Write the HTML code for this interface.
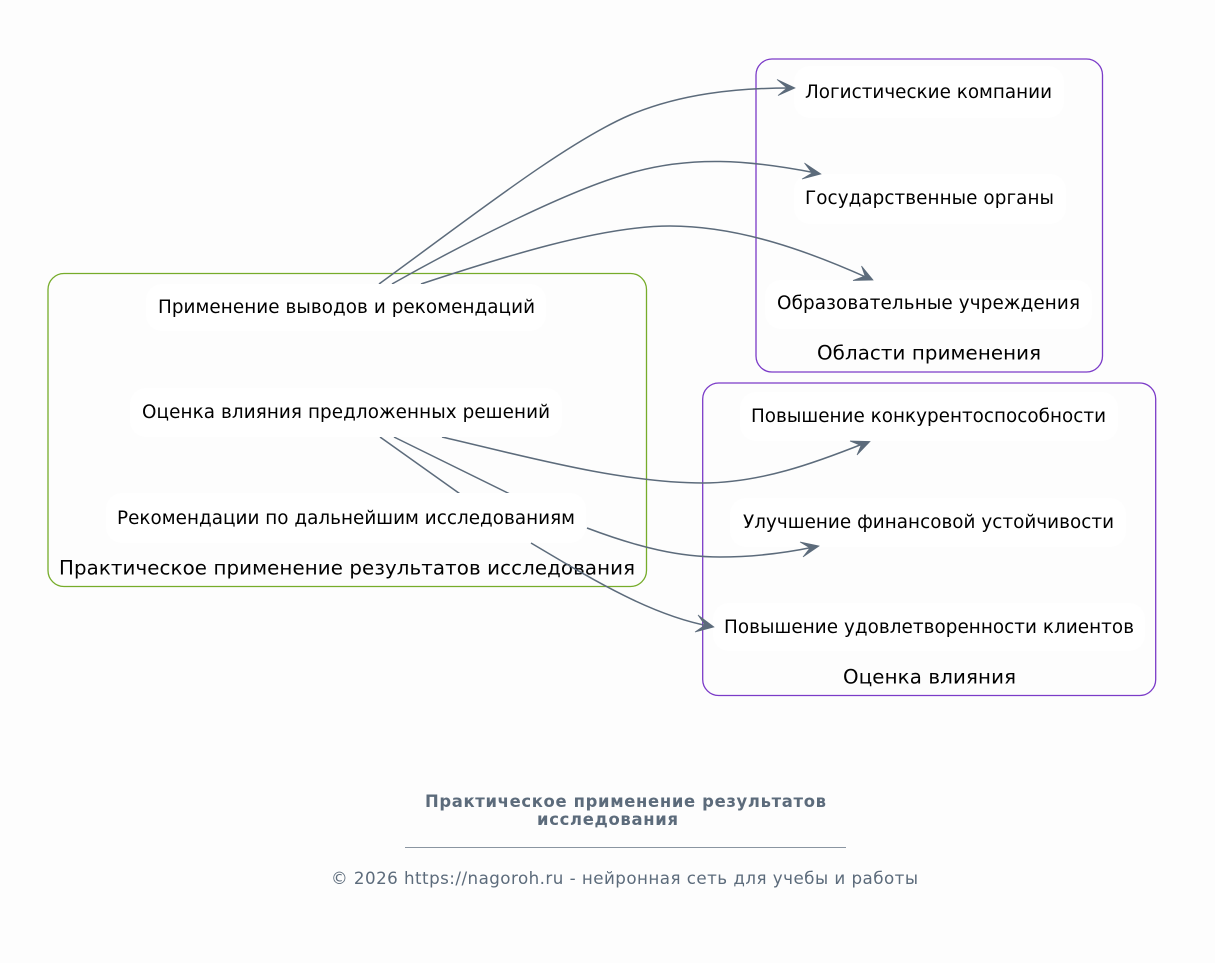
<!DOCTYPE html>
<html><head><meta charset="utf-8"><style>
html,body{margin:0;padding:0;background:#fdfdfd;width:1215px;height:963px;overflow:hidden}
svg{display:block}
text{font-family:"DejaVu Sans","Liberation Sans",sans-serif;fill:#000}
.n{font-size:18.350px}
.c{font-size:19.800px}
.f{fill:#5c6b7b}
</style></head><body>
<svg width="1215" height="963" viewBox="0 0 1215 963" xmlns="http://www.w3.org/2000/svg">
<rect width="1215" height="963" fill="#fdfdfd"/>
<g fill="none" stroke-width="1.300">
<rect x="48" y="273.500" width="598.500" height="313" rx="16" stroke="#76ac2a"/>
<rect x="756" y="59" width="346.500" height="313" rx="16" stroke="#7b3bc8"/>
<rect x="702.700" y="383" width="453" height="312.500" rx="16" stroke="#7b3bc8"/>
</g>
<text class="c" x="59" y="574.500" textLength="576" lengthAdjust="spacing">Практическое применение результатов исследования</text>
<text class="c" x="817" y="359.500" textLength="224" lengthAdjust="spacing">Области применения</text>
<text class="c" x="843" y="683.500" textLength="173" lengthAdjust="spacing">Оценка влияния</text>
<g fill="none" stroke="#5c6b7b" stroke-width="1.500">
<path d="M379,284 C470,218 565,143 630,115 C680,94 735,88 790,88"/>
<path d="M392,284 C470,240 570,190 627,174 C690,155 750,160 816,173"/>
<path d="M421,284 C500,258 600,226 670,226 C740,226 810,252 868,278"/>
<path d="M442,437 C520,455 620,483 703,483 C760,483 815,463 865,443"/>
<path d="M380,437 L470,501"/>
<path d="M394,437 L520,499"/>
</g>
<g fill="#ffffff">
<rect x="146" y="284" width="400" height="47" rx="16"/>
<rect x="130" y="388" width="432" height="49" rx="16"/>
<rect x="106" y="493" width="480" height="50" rx="16"/>
<rect x="794" y="66" width="270" height="52" rx="16"/>
<rect x="794" y="174" width="272" height="50" rx="16"/>
<rect x="765" y="280" width="327" height="49" rx="16"/>
<rect x="740" y="392" width="378" height="49" rx="16"/>
<rect x="730" y="498" width="396" height="49" rx="16"/>
<rect x="713" y="603" width="432" height="48" rx="16"/>
</g>
<g fill="none" stroke="#5c6b7b" stroke-width="1.500">
<path d="M587,528 C640,548 680,557 720,557 C755,557 785,553 814,547"/>
<path d="M531,543 C590,578 650,615 709,626"/>
</g>
<g fill="#5c6b7b" stroke="#5c6b7b" stroke-width="0.700" stroke-linejoin="miter">
<polygon points="795,88 777,79.500 787,88 778,95.500"/>
<polygon points="821,174 804.500,163 812,173 802,179"/>
<polygon points="873,280 861.500,266 865,276 853,280.500"/>
<polygon points="870,441.500 850,441 861,445.500 857,455"/>
<polygon points="819,546 800,542 810,548 803,557"/>
<polygon points="714,627 698,615 705,625 695,632"/>
</g>
<text class="n" x="158" y="313" textLength="377" lengthAdjust="spacing">Применение выводов и рекомендаций</text>
<text class="n" x="142" y="418" textLength="408" lengthAdjust="spacing">Оценка влияния предложенных решений</text>
<text class="n" x="117" y="524" textLength="458" lengthAdjust="spacing">Рекомендации по дальнейшим исследованиям</text>
<text class="n" x="805" y="98" textLength="247" lengthAdjust="spacing">Логистические компании</text>
<text class="n" x="805" y="204" textLength="249" lengthAdjust="spacing">Государственные органы</text>
<text class="n" x="777" y="309" textLength="303" lengthAdjust="spacing">Образовательные учреждения</text>
<text class="n" x="751" y="422" textLength="355" lengthAdjust="spacing">Повышение конкурентоспособности</text>
<text class="n" x="743" y="528" textLength="371" lengthAdjust="spacing">Улучшение финансовой устойчивости</text>
<text class="n" x="724" y="633" textLength="410" lengthAdjust="spacing">Повышение удовлетворенности клиентов</text>
<text class="f" x="425" y="807" font-size="16.400" font-weight="700" textLength="401" lengthAdjust="spacing">Практическое применение результатов</text>
<text class="f" x="537" y="825" font-size="16.400" font-weight="700" textLength="141" lengthAdjust="spacing">исследования</text>
<rect x="405" y="847" width="441" height="1" fill="#8a95a1"/>
<text class="f" x="331" y="884" font-size="16.700" textLength="587" lengthAdjust="spacing">© 2026 https://nagoroh.ru - нейронная сеть для учебы и работы</text>
</svg>
</body></html>
